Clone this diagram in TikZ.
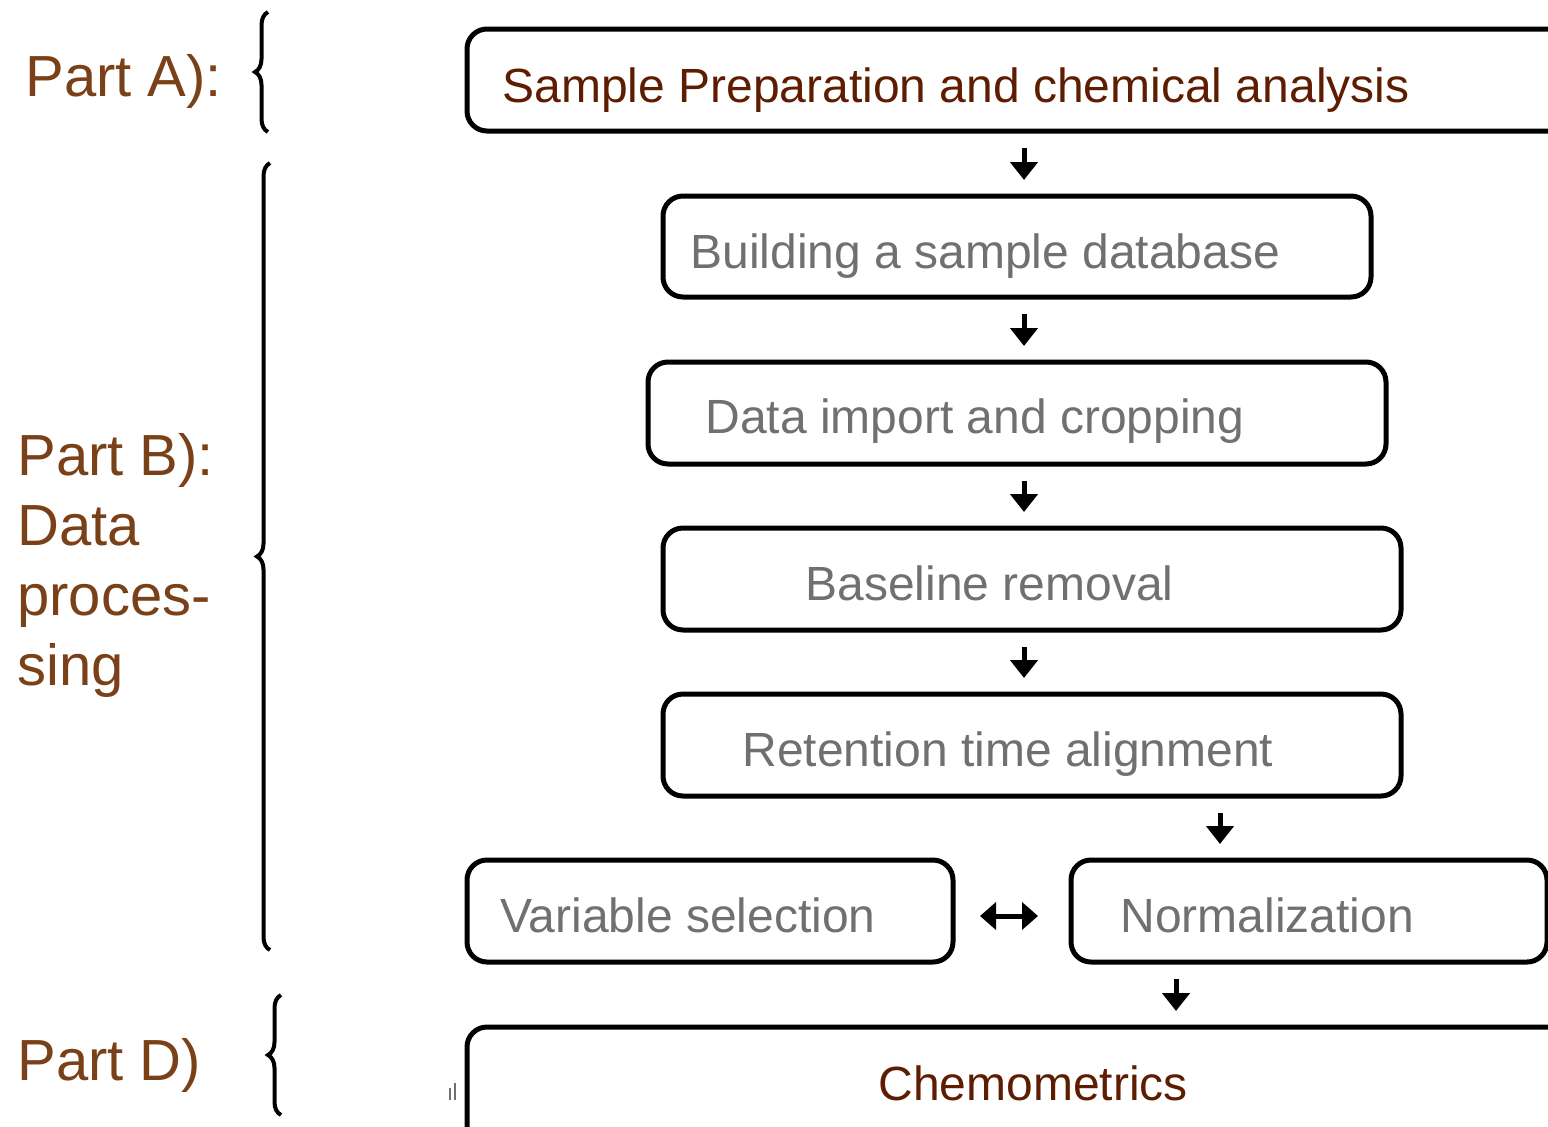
\documentclass[tikz,border=0pt]{standalone}
\usepackage{fontspec}
\setmainfont{Liberation Sans}
\usetikzlibrary{arrows.meta,decorations.pathreplacing}

\definecolor{partbrown}{HTML}{7A4119}
\definecolor{darkred}{HTML}{5E1D00}
\definecolor{stepgray}{HTML}{707070}

\begin{document}
\begin{tikzpicture}[x=0.5pt,y=-0.5pt,
    stepbox/.style={draw=black,line width=2.5pt,rounded corners=10pt},
    steptext/.style={anchor=base west,inner sep=0pt,font=\fontsize{24}{29}\selectfont},
    parttext/.style={anchor=base west,inner sep=0pt,text=partbrown,font=\fontsize{29}{35}\selectfont},
    arr/.style={line width=2.5pt,-{Triangle[width=13.5pt,length=9pt]}},
    darr/.style={line width=2.5pt,{Triangle[width=13.5pt,length=8pt]}-{Triangle[width=13.5pt,length=8pt]}},
    partbrace/.style={line width=2pt,decorate,decoration={brace,amplitude=6.5pt}}]
    \useasboundingbox (0,0) rectangle (1548,1126);
    \clip (0,0) rectangle (1548,1126);

    % Part labels
    \node[parttext] (pa) at (25,96) {Part A):};
    \node[parttext,align=left] (pb) at (17,685) {Part B):\\Data\\proces-\\sing};
    \node[parttext] (pd) at (17,1080) {Part D)};

    % Braces
    \draw[partbrace] (268,132) -- (268,12);
    \draw[partbrace] (270,950) -- (270,163);
    \draw[partbrace] (281,1115) -- (281,995);

    % Boxes
    \draw[stepbox] (467,29) rectangle (1600,131);
    \coordinate (prep) at (1024,131);
    \node[steptext,text=darkred] (preptext) at (502,102) {Sample Preparation and chemical analysis};

    \draw[stepbox] (663,196) rectangle (1371,297);
    \coordinate (dbtop) at (1024,196);
    \coordinate (dbbot) at (1024,297);
    \node[steptext,text=stepgray] (dbtext) at (690,268) {Building a sample database};

    \draw[stepbox] (648,362) rectangle (1386,464);
    \coordinate (imptop) at (1024,362);
    \coordinate (impbot) at (1024,464);
    \node[steptext,text=stepgray] (imptext) at (705,433) {Data import and cropping};

    \draw[stepbox] (663,528) rectangle (1401,630);
    \coordinate (basetop) at (1024,528);
    \coordinate (basebot) at (1024,630);
    \node[steptext,text=stepgray] (basetext) at (805,600) {Baseline removal};

    \draw[stepbox] (663,694) rectangle (1401,796);
    \coordinate (rettop) at (1024,694);
    \coordinate (retbot) at (1220,796);
    \node[steptext,text=stepgray] (rettext) at (742,766) {Retention time alignment};

    \draw[stepbox] (467,860) rectangle (953,962);
    \coordinate (varright) at (953,916);
    \node[steptext,text=stepgray] (vartext) at (500,932) {Variable selection};

    \draw[stepbox] (1071,860) rectangle (1547,962);
    \coordinate (normtop) at (1220,860);
    \coordinate (normleft) at (1071,916);
    \coordinate (normbot) at (1176,962);
    \node[steptext,text=stepgray] (normtext) at (1120,932) {Normalization};

    \draw[stepbox] (467,1027) rectangle (1600,1200);
    \coordinate (chemtop) at (1176,1027);
    \node[steptext,text=darkred] (chemtext) at (878,1100) {Chemometrics};

    % small mark left of the last box
    \draw[stepgray,line width=0.8pt] (450,1088) -- (450,1100) (455,1083) -- (455,1100);

    % Arrows
    \draw[arr,shorten <=8.5pt,shorten >=8pt] (prep) -- (dbtop);
    \draw[arr,shorten <=8.5pt,shorten >=8pt] (dbbot) -- (imptop);
    \draw[arr,shorten <=8.5pt,shorten >=8pt] (impbot) -- (basetop);
    \draw[arr,shorten <=8.5pt,shorten >=8pt] (basebot) -- (rettop);
    \draw[arr,shorten <=8.5pt,shorten >=8pt] (retbot) -- (normtop);
    \draw[arr,shorten <=8.5pt,shorten >=8pt] (normbot) -- (chemtop);
    \draw[darr,shorten <=13.5pt,shorten >=16.5pt] (varright) -- (normleft);
\end{tikzpicture}
\end{document}
